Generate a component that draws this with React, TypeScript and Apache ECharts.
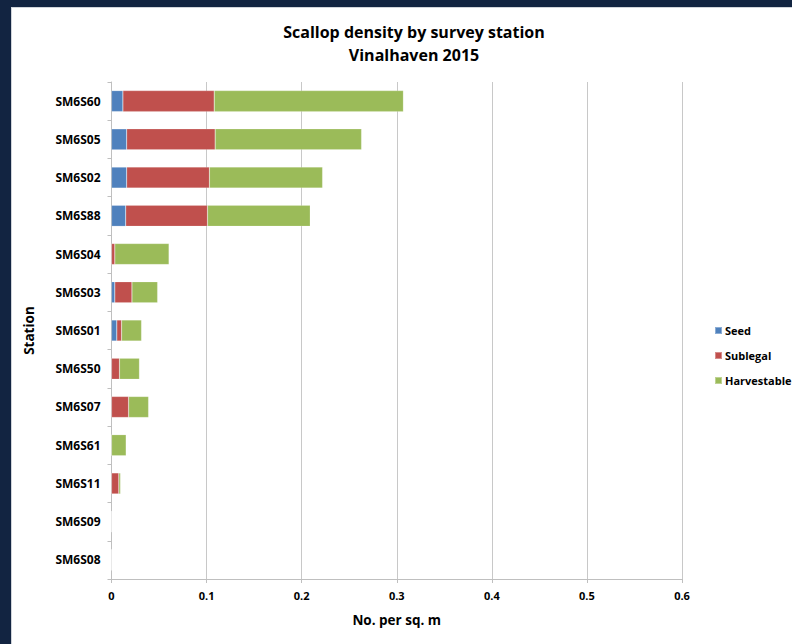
import React, { useEffect, useRef } from "react";
import * as echarts from "echarts";

const stations = ["SM6S60", "SM6S05", "SM6S02", "SM6S88", "SM6S04", "SM6S03", "SM6S01", "SM6S50", "SM6S07", "SM6S61", "SM6S11", "SM6S09", "SM6S08"];
const seed = [0.012, 0.016, 0.016, 0.015, 0, 0.0035, 0.0056, 0, 0, 0, 0, 0, 0];
const sublegal = [0.096, 0.093, 0.087, 0.086, 0.0035, 0.018, 0.005, 0.0084, 0.018, 0, 0.0077, 0, 0];
const harvestable = [0.199, 0.154, 0.119, 0.108, 0.057, 0.027, 0.021, 0.021, 0.021, 0.0154, 0.0018, 0, 0];
const xTicks = [0, 0.1, 0.2, 0.3, 0.4, 0.5, 0.6];

const FONT = "'Open Sans', sans-serif";

export default function App() {
  const ref = useRef<HTMLDivElement>(null);
  useEffect(() => {
    if (!ref.current) return;
    const chart = echarts.init(ref.current, undefined, { renderer: "svg" });
    const mk = (name: string, data: number[], color: string) => ({
      name,
      type: "bar",
      stack: "total",
      data,
      barCategoryGap: "45%",
      itemStyle: { color, borderColor: "rgba(255,255,255,0.35)", borderWidth: 0.5 },
    });
    chart.setOption({
      animation: false,
      backgroundColor: "#ffffff",
      textStyle: { fontFamily: FONT },
      title: {
        text: "Scallop density by survey station\nVinalhaven 2015",
        left: 397,
        top: 7,
        textAlign: "center",
        textStyle: { fontFamily: FONT, fontSize: 16, fontWeight: "bold", color: "#000", lineHeight: 23 },
      },
      legend: {
        orient: "vertical",
        left: 697,
        top: 312,
        itemWidth: 7,
        itemHeight: 7,
        itemGap: 14,
        icon: "rect",
        data: ["Seed", "Sublegal", "Harvestable"],
        textStyle: { fontFamily: FONT, fontSize: 11, fontWeight: "bold", color: "#000", padding: [0, 0, 0, -2] },
      },
      grid: { left: 99.5, right: 110, top: 74, bottom: 65, containLabel: false },
      xAxis: {
        type: "value",
        min: 0,
        max: 0.6,
        interval: 0.1,
        name: "No. per sq. m",
        nameLocation: "middle",
        nameGap: 34,
        nameTextStyle: { fontFamily: FONT, fontSize: 13.5, fontWeight: "bold", color: "#000" },
        axisLine: { show: true, lineStyle: { color: "#bfbfbf" } },
        axisTick: { show: true, length: 4, lineStyle: { color: "#bfbfbf" } },
        axisLabel: {
          fontFamily: FONT, fontSize: 11, fontWeight: "bold", color: "#000", margin: 11,
          formatter: (v: number) => {
            const t = xTicks.find((x) => Math.abs(x - v) < 1e-9);
            return t === undefined ? "" : String(t);
          },
        },
        splitLine: { show: true, lineStyle: { color: "#c8c8c8" } },
      },
      yAxis: {
        type: "category",
        data: stations,
        inverse: true,
        name: "Station",
        nameLocation: "middle",
        nameGap: 76,
        nameTextStyle: { fontFamily: FONT, fontSize: 13.5, fontWeight: "bold", color: "#000" },
        axisLine: { show: true, lineStyle: { color: "#bfbfbf" } },
        axisTick: { show: true, length: 4, lineStyle: { color: "#bfbfbf" } },
        axisLabel: { fontFamily: FONT, fontSize: 12, fontWeight: "bold", color: "#000", margin: 11 },
      },
      series: [
        mk("Seed", seed, "#4f81bd"),
        mk("Sublegal", sublegal, "#c0504d"),
        mk("Harvestable", harvestable, "#9bbb59"),
      ],
    });
    return () => chart.dispose();
  }, []);
  return (
    <div style={{ position: "fixed", left: 0, top: 0, width: 792, height: 644, background: "#122441" }}>
      <div
        ref={ref}
        style={{ position: "absolute", left: 12, top: 8, width: 780, height: 636, background: "#fff", boxShadow: "0 0 0 1px #d0d4da" }}
      />
    </div>
  );
}
